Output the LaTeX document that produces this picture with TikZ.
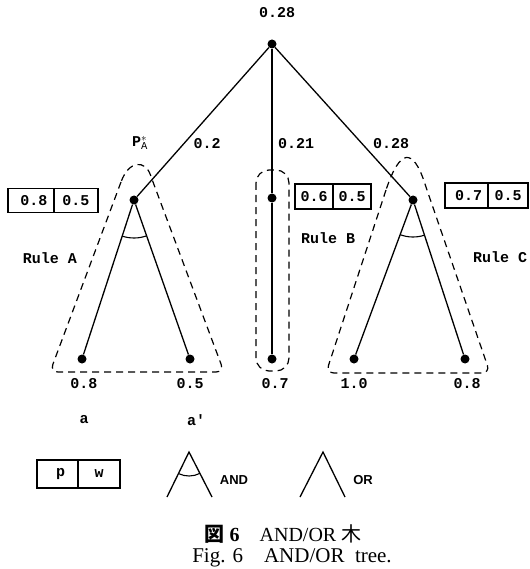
\documentclass[tikz,border=0pt]{standalone}
\usepackage{fontspec}
\setmainfont{Liberation Serif}
\setsansfont{Liberation Sans}
\setmonofont{Liberation Mono}
\newfontfamily\cjk{Noto Sans CJK JP}
\usetikzlibrary{positioning,angles}

\begin{document}
\begin{tikzpicture}[x=1pt,y=-1pt,
  dot/.style={circle,fill=black,inner sep=0pt,minimum size=9pt},
  edge/.style={line width=1.3pt},
  arcline/.style={draw,line width=1.1pt},
  ruleline/.style={line width=1.2pt,dash pattern=on 7pt off 5pt},
  cell/.style={draw,line width=1.2pt,outer sep=0pt,inner sep=0pt,minimum height=24pt,
               font=\ttfamily\bfseries\fontsize{15}{15}\selectfont},
  lbl/.style={font=\ttfamily\bfseries\fontsize{15}{15}\selectfont,inner sep=0pt},
  keylbl/.style={font=\sffamily\bfseries\fontsize{13}{13}\selectfont,inner sep=0pt},
  caption/.style={font=\fontsize{20}{20}\selectfont,inner sep=0pt,anchor=base}]

  \useasboundingbox (0,0) rectangle (529,569);

  % tree nodes
  \foreach \nm/\x/\y in {root/272/44, ra/134/200, rb/272/198, rc/413/200,
                         la1/82/359, la2/190/359, lb/272/359,
                         lc1/354/359, lc2/465/359}
  {
    \node[dot] (\nm) at (\x,\y) {};
  }

  % edges
  \foreach \a/\b in {root/ra, root/rb, root/rc,
                     ra/la1, ra/la2, rb/lb, rc/lc1, rc/lc2}
  {
    \draw[edge] (\a) -- (\b);
  }

  % AND arcs
  \pic[arcline,angle radius=38pt] {angle=la1--ra--la2};
  \pic[arcline,angle radius=37pt] {angle=lc1--rc--lc2};

  % rule outlines
  \draw[ruleline] (121,182) [rounded corners=8pt] -- (50,372) -- (224,372) -- (153,182)
    [sharp corners] .. controls (145,160) and (129,160) .. (121,182);
  \draw[ruleline,rounded corners=13pt] (256,170) rectangle (289,371);
  \draw[ruleline] (386,190) [rounded corners=8pt] -- (326,373) -- (490,373) -- (427,190)
    [sharp corners] .. controls (413,148) and (400,148) .. (386,190);

  % p/w boxes
  \node[cell,minimum width=46pt] (pa) at (31,200.5) {\hspace{6pt}0.8};
  \node[cell,minimum width=44pt,right=0pt of pa] (wa) {0.5};
  \node[cell,minimum width=38pt,minimum height=25pt] (pb) at (314,196.5) {0.6};
  \node[cell,minimum width=38pt,minimum height=25pt,right=0pt of pb] (wb) {0.5};
  \node[cell,minimum width=43pt,minimum height=25pt] (pc) at (466.5,195.5) {\hspace{4pt}0.7};
  \node[cell,minimum width=40pt,minimum height=25pt,right=0pt of pc] (wc) {0.5};

  % values
  \node[lbl] (vroot) at (277,13) {0.28};
  \node[lbl] (pstar) at (140,143) {P$^{*}_{\mathtt{A}}$};
  \node[lbl] (va) at (207,144) {0.2};
  \node[lbl] (vb) at (296,144) {0.21};
  \node[lbl] (vc) at (391,144) {0.28};
  \foreach \nm/\x/\t in {vla1/84/0.8, vla2/190/0.5, vlb/275/0.7,
                         vlc1/354/1.0, vlc2/467/0.8}
  {
    \node[lbl] (\nm) at (\x,384) {\t};
  }
  \node[lbl] (na) at (84,420) {a};
  \node[lbl] (naa) at (196,420) {a'};

  % rule names
  \node[lbl] (rulea) at (50,258) {Rule A};
  \node[lbl] (ruleb) at (328,238) {Rule B};
  \node[lbl,anchor=west] (rulec) at (473,257) {Rule C};

  % legend
  \node[cell,minimum width=41pt,minimum height=28pt] (pkey) at (57.5,474) {\hspace{6pt}p};
  \node[cell,minimum width=42pt,minimum height=28pt,right=0pt of pkey] (wkey) {w};

  \coordinate (andtop) at (189,452);
  \coordinate (andl) at (167,497);
  \coordinate (andr) at (212,497);
  \draw[edge] (andl) -- (andtop) -- (andr);
  \pic[arcline,angle radius=24pt] {angle=andl--andtop--andr};
  \node[keylbl] (andkey) at (234,480) {AND};

  \coordinate (ortop) at (323,452);
  \coordinate (orl) at (300,497);
  \coordinate (orr) at (345,497);
  \draw[edge] (orl) -- (ortop) -- (orr);
  \node[keylbl] (orkey) at (363,480) {OR};

  % caption
  \node[caption] (cap1) at (283,541) {{\cjk\bfseries 図}\ \textbf{6}\quad AND/OR {\cjk 木}};
  \node[caption,font=\fontsize{21}{21}\selectfont] (cap2) at (292,562) {Fig. 6\quad AND/OR\ \ tree.};
\end{tikzpicture}
\end{document}
